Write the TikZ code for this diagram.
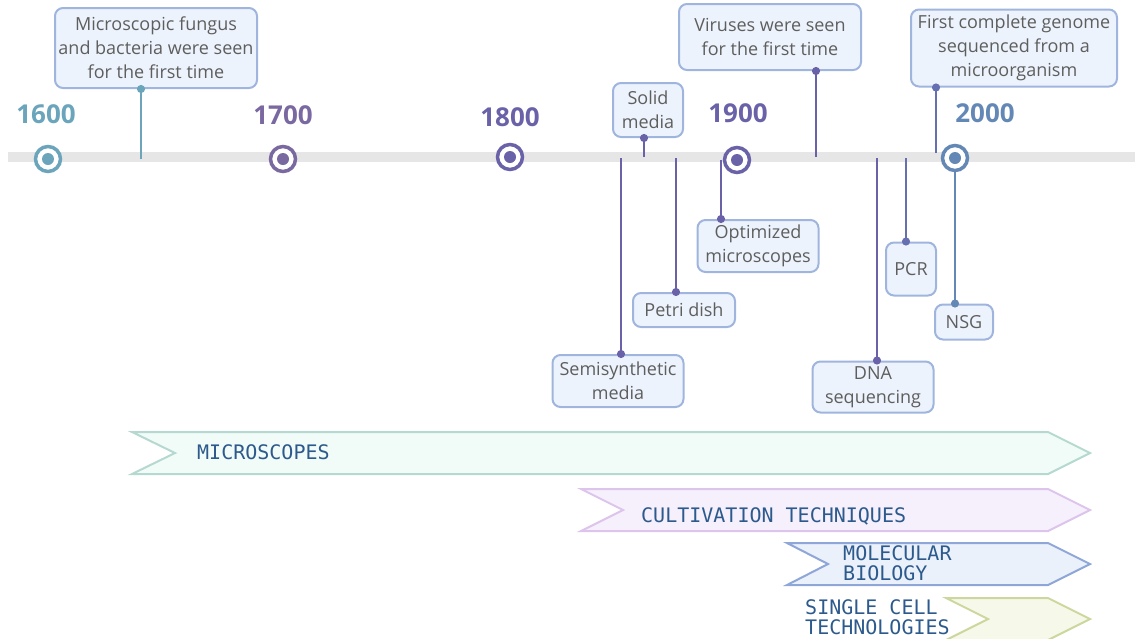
\documentclass[tikz,border=0pt]{standalone}
\usepackage{fontspec}
\setmainfont{Open Sans}
\setmonofont{DejaVu Sans Mono}
\usetikzlibrary{arrows.meta,positioning,calc}

\definecolor{cTeal}{HTML}{6AA5BB}
\definecolor{cPlum}{HTML}{7A68A0}
\definecolor{cIndigo}{HTML}{6A62A8}
\definecolor{cSlate}{HTML}{6670B0}
\definecolor{cBlue}{HTML}{6488B6}
\definecolor{boxFill}{HTML}{EDF3FC}
\definecolor{boxLine}{HTML}{9FB5DE}
\definecolor{boxText}{HTML}{5E5E5E}
\definecolor{bandText}{HTML}{2D5A8C}
\definecolor{lineGray}{HTML}{E6E6E6}
\definecolor{micFill}{HTML}{F1FBF8}\definecolor{micLine}{HTML}{B5D9D0}
\definecolor{culFill}{HTML}{F6EFFC}\definecolor{culLine}{HTML}{DCC4EC}
\definecolor{molFill}{HTML}{EBF1FB}\definecolor{molLine}{HTML}{8EA6D8}
\definecolor{scFill}{HTML}{F6F9EA}\definecolor{scLine}{HTML}{CBD79C}

\begin{document}
\begin{tikzpicture}[x=1pt,y=-1pt,
  note/.style={draw=boxLine,fill=boxFill,line width=2pt,rounded corners=8pt,text=boxText,
    align=center,font=\fontsize{18}{24}\selectfont,inner sep=2pt},
  year/.style={font=\fontsize{26}{26}\selectfont\bfseries},
  stem/.style={line width=2pt,-{Circle[length=8pt]},shorten >=-4pt},
  tag/.style={text=bandText,font=\ttfamily\fontsize{20}{20}\selectfont,anchor=west,inner sep=0pt,align=left}]
\useasboundingbox (0,0) rectangle (1135,638);

% timeline
\draw[line width=10pt,lineGray] (8,157)--(1135,157);

% event boxes
\node[note,minimum width=202,minimum height=80] (fungus) at (156,48) {Microscopic fungus\\and bacteria were seen\\for the first time};
\node[note,minimum width=70,minimum height=54] (solid) at (648,110) {Solid\\media};
\node[note,minimum width=182,minimum height=66] (viruses) at (770,37) {Viruses were seen\\for the first time};
\node[note,minimum width=206,minimum height=77] (genome) at (1014,48) {First complete genome\\sequenced from a\\microorganism};
\node[note,minimum width=121,minimum height=52] (optim) at (758,246) {Optimized\\microscopes};
\node[note,minimum width=102,minimum height=34] (petri) at (684,310) {Petri dish};
\node[note,minimum width=131,minimum height=52] (semi) at (618,381) {Semisynthetic\\media};
\node[note,minimum width=121,minimum height=51] (dna) at (873,387) {DNA\\sequencing};
\node[note,minimum width=50,minimum height=53] (pcr) at (911,269) {PCR};
\node[note,minimum width=58,minimum height=35] (nsg) at (964,322) {NSG};

% stems
\coordinate (t-fungus) at (141,159);
\coordinate (t-solid) at (644,157);
\coordinate (t-viruses) at (816,157);
\coordinate (t-genome) at (936,153);
\coordinate (t-optim) at (721,160);
\coordinate (t-petri) at (676,158);
\coordinate (t-semi) at (621,158);
\coordinate (t-dna) at (877,158);
\coordinate (t-pcr) at (906,158);
\coordinate (t-nsg) at (955,158);
\draw[stem,cTeal] (t-fungus)--(t-fungus |- fungus.south);
\draw[stem,cIndigo] (t-solid)--(t-solid |- solid.south);
\draw[stem,cIndigo] (t-viruses)--(t-viruses |- viruses.south);
\draw[stem,cSlate] (t-genome)--(t-genome |- genome.south);
\draw[stem,cIndigo] (t-optim)--(t-optim |- optim.north);
\draw[stem,cIndigo] (t-petri)--(t-petri |- petri.north);
\draw[stem,cIndigo] (t-semi)--(t-semi |- semi.north);
\draw[stem,cIndigo] (t-dna)--(t-dna |- dna.north);
\draw[stem,cSlate] (t-pcr)--(t-pcr |- pcr.north);
\draw[stem,cBlue] (t-nsg)--(t-nsg |- nsg.north);

% centuries
\foreach \yr/\x/\y/\ly/\c in {1600/48/159/114/cTeal,1700/283/159/115/cPlum,1800/510/157/117/cIndigo,1900/737/160/113/cIndigo,2000/955/158/113/cBlue} {
  \draw[line width=3.5pt,\c,fill=white] (\x,\y) circle (12.5pt);
  \fill[\c] (\x,\y) circle (6pt);
}
\node[year,cTeal] (y1600) at (46,114) {1600};
\node[year,cPlum] (y1700) at (283,115) {1700};
\node[year,cIndigo] (y1800) at (510,117) {1800};
\node[year,cIndigo] (y1900) at (738,113) {1900};
\node[year,cBlue] (y2000) at (985,113) {2000};

% technology bands
\foreach \l/\n/\t/\b/\f/\d in {132/175/432/474/micFill/micLine,581/623/489/531/culFill/culLine,787/828/543/585/molFill/molLine,946/988/598/640/scFill/scLine} {
  \draw[line width=2pt,draw=\d,fill=\f,line join=miter]
    (\l,\t)--(1048,\t)--(1090,{(\t+\b)/2})--(1048,\b)--(\l,\b)--(\n,{(\t+\b)/2})--cycle;
}
\node[tag] (mic) at (197,452) {MICROSCOPES};
\node[tag] (cul) at (641,516) {CULTIVATION TECHNIQUES};
\node[tag] (mol) at (843,563) {MOLECULAR\\BIOLOGY};
\node[tag] (sc) at (805,617) {SINGLE CELL\\TECHNOLOGIES};
\end{tikzpicture}
\end{document}
